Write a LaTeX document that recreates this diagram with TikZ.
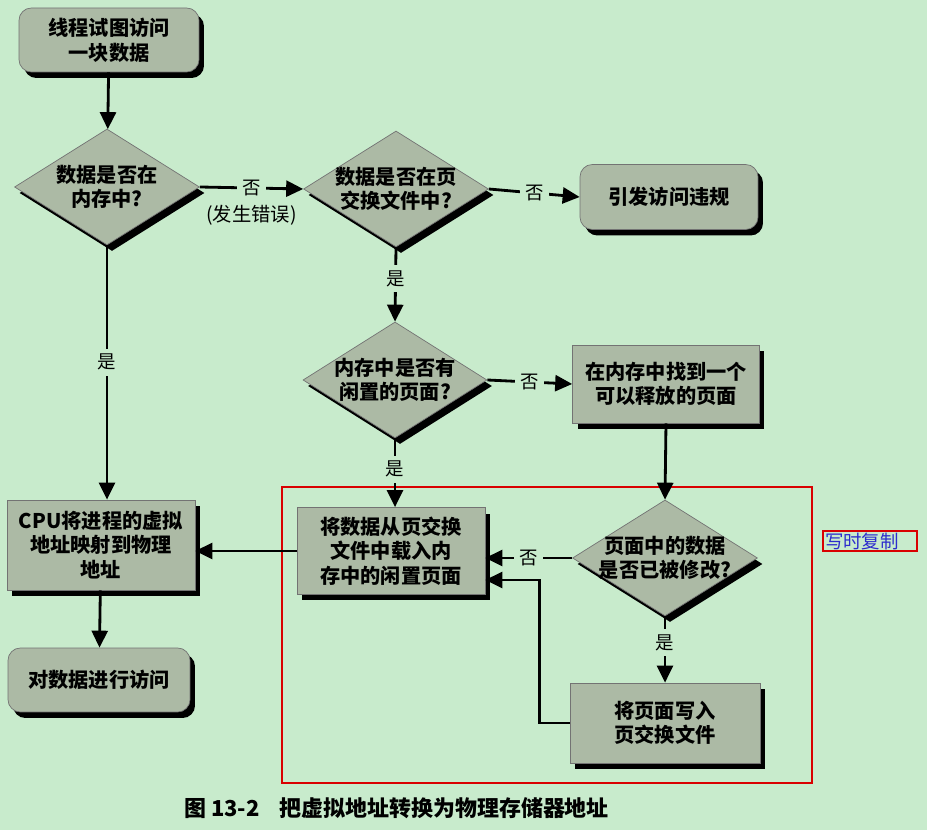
\documentclass[tikz,border=0pt]{standalone}
\usepackage{fontspec}
\setmainfont{Noto Sans CJK SC}
\usetikzlibrary{shapes.geometric, arrows.meta, positioning, calc, shadows}
\definecolor{pagebg}{RGB}{200,235,204}
\definecolor{boxfill}{RGB}{172,186,165}
\definecolor{noteblue}{RGB}{45,45,205}

\begin{document}
\begin{tikzpicture}[
    x=0.02cm, y=-0.02cm,
    base/.style={
        draw=black!55, fill=boxfill, align=center, inner sep=0pt,
        font=\fontsize{11.5pt}{14pt}\selectfont\bfseries,
        drop shadow={fill=black, opacity=1, shadow xshift=0.1cm, shadow yshift=-0.12cm}
    },
    terminal/.style={base, rectangle, rounded corners=7pt,
        minimum width=3.6cm, minimum height=1.28cm},
    process/.style={base, rectangle, minimum width=3.76cm, minimum height=1.6cm},
    decision/.style={base, diamond, aspect=1.6, inner sep=-6pt,
        minimum width=3.7cm, minimum height=2.32cm},
    arrow/.style={-{Triangle[length=3.4mm, width=3.2mm]}, line width=1.6pt},
    answer/.style={fill=pagebg, font=\fontsize{10.5pt}{12pt}\selectfont, inner sep=3pt}
]

% page
\fill[pagebg] (0,0) rectangle (927,830);
\useasboundingbox (0,0) rectangle (927,830);

% copy-on-write frame
\draw[red!85!black, line width=0.6pt] (282,487) rectangle (812,783);

% left column
\node[terminal] (start) at (109,40) {线程试图访问\\一块数据};
\node[decision] (inmem) at (107,187) {数据是否在\\内存中?};
\node[process, minimum height=1.8cm] (cpu) at (101,545) {CPU将进程的虚拟\\地址映射到物理\\地址};
\node[terminal, minimum width=3.64cm] (access) at (99,680) {对数据进行访问};

% middle column
\node[decision] (inswap) at (396,189) {数据是否在页\\交换文件中?};
\node[decision, minimum width=3.68cm] (freepage) at (395,380) {内存中是否有\\闲置的页面?};
\node[process, minimum height=1.74cm] (load) at (391,551) {将数据从页交换\\文件中载入内\\存中的闲置页面};

% right column
\node[terminal, minimum width=3.56cm, minimum height=1.3cm] (violation) at (669,197) {引发访问违规};
\node[process, minimum width=3.74cm, minimum height=1.56cm] (find) at (666,384) {在内存中找到一个\\可以释放的页面};
\node[decision] (dirty) at (665,558) {页面中的数据\\是否已被修改?};
\node[process, minimum width=3.8cm] (write) at (665,723) {将页面写入\\页交换文件};

% arrows
\draw[arrow] (start) -- (inmem);
\draw[arrow] (inmem.east) -- node[answer] (miss) {否} (inswap.west);
\node[font=\fontsize{11pt}{12pt}\selectfont, below=-2pt of miss] (fault) {(发生错误)};
\draw[arrow] (inmem.south) -- node[answer, pos=0.46] {是} (inmem.south |- cpu.north);
\draw[arrow] (inswap.east) -- node[answer] {否} (violation.west);
\draw[arrow] (inswap.south) -- node[answer, pos=0.42] {是} (freepage.north);
\draw[arrow] (freepage.east) -- node[answer] {否} (find.west);
\draw[arrow] (freepage.south) -- node[answer, pos=0.45] {是} (freepage.south |- load.north);
\draw[arrow] (find.south) -- (dirty.north);
\draw[arrow] (dirty.west) -- node[answer] {否} (dirty.west -| load.east);
\draw[arrow] (dirty.south) -- node[answer, pos=0.4] {是} (write.north);
\draw[arrow] (write.west) -- ++(-30,0) |- ($(load.east)+(0,29)$);
\draw[arrow] (load.west) -- (load.west -| cpu.east);
\draw[arrow] (cpu) -- (access);

% note and caption
\node[draw=red!85!black, line width=1pt, text=noteblue, text width=1.8cm,
    inner xsep=0.04cm, inner ysep=1pt, align=left,
    font=\fontsize{10.5pt}{12pt}\selectfont] (note) at (870,541) {写时复制};
\node[anchor=west, font=\fontsize{12.5pt}{14pt}\selectfont\bfseries] (caption) at (178,808)
    {图 13-2\hspace{0.9em}把虚拟地址转换为物理存储器地址};

\end{tikzpicture}
\end{document}
